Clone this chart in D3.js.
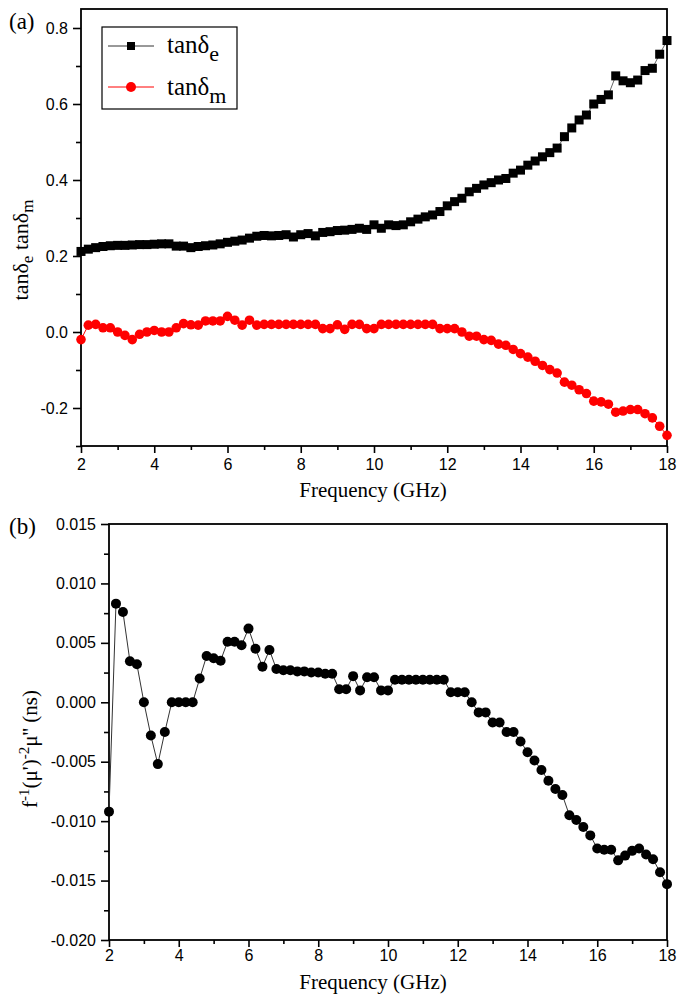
<!DOCTYPE html>
<html>
<head>
<meta charset="utf-8">
<script src="https://d3js.org/d3.v7.min.js"></script>
<style>
  body { margin: 0; background: #fff; }
  .tick line { stroke: #000; stroke-width: 1.6; }
</style>
</head>
<body>
<svg id="fig" width="678" height="996"></svg>
<script>
// frequency points (GHz)
var freq = [2.0, 2.2, 2.4, 2.6, 2.8, 3.0, 3.2, 3.4, 3.6, 3.8,
            4.0, 4.2, 4.4, 4.6, 4.8, 5.0, 5.2, 5.4, 5.6, 5.8,
            6.0, 6.2, 6.4, 6.6, 6.8, 7.0, 7.2, 7.4, 7.6, 7.8,
            8.0, 8.2, 8.4, 8.6, 8.8, 9.0, 9.2, 9.4, 9.6, 9.8,
            10.0, 10.2, 10.4, 10.6, 10.8, 11.0, 11.2, 11.4, 11.6, 11.8,
            12.0, 12.2, 12.4, 12.6, 12.8, 13.0, 13.2, 13.4, 13.6, 13.8,
            14.0, 14.2, 14.4, 14.6, 14.8, 15.0, 15.2, 15.4, 15.6, 15.8,
            16.0, 16.2, 16.4, 16.6, 16.8, 17.0, 17.2, 17.4, 17.6, 17.8,
            18.0];

// (a) dielectric loss tangent
var tanE = [0.212, 0.218, 0.222, 0.225, 0.227, 0.228, 0.228, 0.229, 0.230, 0.230,
            0.231, 0.232, 0.232, 0.226, 0.226, 0.222, 0.225, 0.227, 0.229, 0.232,
            0.236, 0.239, 0.242, 0.247, 0.252, 0.254, 0.253, 0.254, 0.256, 0.250,
            0.256, 0.259, 0.253, 0.262, 0.264, 0.267, 0.268, 0.270, 0.273, 0.270,
            0.282, 0.273, 0.282, 0.280, 0.282, 0.290, 0.297, 0.303, 0.308, 0.317,
            0.332, 0.343, 0.352, 0.369, 0.378, 0.387, 0.393, 0.400, 0.404, 0.418,
            0.426, 0.439, 0.450, 0.461, 0.472, 0.484, 0.514, 0.537, 0.558, 0.571,
            0.600, 0.612, 0.624, 0.674, 0.661, 0.656, 0.663, 0.688, 0.694, 0.731,
            0.767];

// (a) magnetic loss tangent
var tanM = [-0.020, 0.018, 0.020, 0.011, 0.011, 0.000, -0.009, -0.020, -0.006, 0.000,
            0.004, 0.000, 0.000, 0.011, 0.022, 0.019, 0.018, 0.029, 0.029, 0.029,
            0.041, 0.031, 0.018, 0.031, 0.018, 0.020, 0.020, 0.020, 0.020, 0.020,
            0.020, 0.020, 0.020, 0.009, 0.009, 0.019, 0.007, 0.020, 0.020, 0.009,
            0.009, 0.020, 0.020, 0.020, 0.020, 0.020, 0.020, 0.020, 0.020, 0.009,
            0.009, 0.009, 0.000, -0.011, -0.011, -0.020, -0.022, -0.032, -0.035, -0.046,
            -0.057, -0.066, -0.077, -0.088, -0.099, -0.108, -0.132, -0.140, -0.152, -0.162,
            -0.182, -0.184, -0.190, -0.211, -0.208, -0.204, -0.204, -0.215, -0.226, -0.248,
            -0.272];

// (b) f^-1 (mu')^-2 mu'' (ns)
var muTerm = [-0.0092, 0.0083, 0.0076, 0.00345, 0.0032, 0.0000, -0.0028, -0.0052, -0.0025, 0.0000,
              0.0000, 0.0000, 0.0000, 0.0020, 0.0039, 0.0037, 0.0035, 0.0051, 0.0051, 0.0048,
              0.0062, 0.0045, 0.0030, 0.0044, 0.0028, 0.0027, 0.0027, 0.0026, 0.0026, 0.0025,
              0.0025, 0.0024, 0.0024, 0.0011, 0.0011, 0.0022, 0.0010, 0.0021, 0.0021, 0.0010,
              0.0010, 0.0019, 0.0019, 0.0019, 0.0019, 0.0019, 0.0019, 0.0019, 0.0019, 0.00085,
              0.00085, 0.00085, 0.0000, -0.00085, -0.00085, -0.0017, -0.0017, -0.0025, -0.0025, -0.0033,
              -0.0042, -0.0049, -0.0057, -0.0066, -0.0073, -0.0078, -0.0095, -0.0099, -0.0105, -0.0112,
              -0.0123, -0.0124, -0.0124, -0.0133, -0.0129, -0.0125, -0.0123, -0.0128, -0.0132, -0.0143,
              -0.0153];

var xTicks = [2, 4, 6, 8, 10, 12, 14, 16, 18],
    xMinor = [3, 5, 7, 9, 11, 13, 15, 17];
var yTicksA = [-0.2, 0.0, 0.2, 0.4, 0.6, 0.8],
    yMinorA = [-0.3, -0.1, 0.1, 0.3, 0.5, 0.7];
var yTicksB = [-0.020, -0.015, -0.010, -0.005, 0.000, 0.005, 0.010, 0.015],
    yMinorB = [-0.0175, -0.0125, -0.0075, -0.0025, 0.0025, 0.0075, 0.0125];

var SANS = "'Liberation Sans', Arial, Helvetica, sans-serif",
    SERIF = "'Liberation Serif', 'Times New Roman', Times, 'DejaVu Serif', serif";

var svg = d3.select("#fig");

function serifText(parent, size) {
  return parent.append("text")
      .attr("font-family", SERIF)
      .attr("font-size", size)
      .attr("fill", "#000");
}

function drawFrame(x, y, opts) {
  var g = svg.append("g");
  var x0 = x.range()[0], x1 = x.range()[1],
      y0 = y.range()[0], y1 = y.range()[1];

  function tidy(s) {
    s.select(".domain").remove();
    s.attr("font-family", SANS).attr("font-size", 16);
    s.selectAll("text").attr("fill", "#000");
  }

  // minor ticks
  g.append("g")
      .attr("transform", "translate(0," + y0 + ")")
      .call(d3.axisBottom(x).tickValues(xMinor).tickSize(4).tickFormat(""))
      .call(tidy);
  g.append("g")
      .attr("transform", "translate(" + x0 + ",0)")
      .call(d3.axisLeft(y).tickValues(opts.yMinor).tickSize(5).tickFormat(""))
      .call(tidy);

  // major ticks
  g.append("g")
      .attr("transform", "translate(0," + y0 + ")")
      .call(d3.axisBottom(x).tickValues(xTicks).tickSize(7).tickPadding(opts.xPad)
        .tickFormat(function(d) { return d; }))
      .call(tidy);
  g.append("g")
      .attr("transform", "translate(" + x0 + ",0)")
      .call(d3.axisLeft(y).tickValues(opts.yTicks).tickSize(8).tickPadding(opts.yPad)
        .tickFormat(function(d) { return d.toFixed(opts.digits); }))
      .call(tidy);

  // box
  g.append("rect")
      .attr("x", x0).attr("y", y1)
      .attr("width", x1 - x0).attr("height", y0 - y1)
      .attr("fill", "none")
      .attr("stroke", "#000")
      .attr("stroke-width", 1.8);

  serifText(g, 21)
      .attr("x", 373).attr("y", opts.titleY)
      .attr("text-anchor", "middle")
      .text("Frequency (GHz)");
}

// ---------- panel (a) ----------
var xa = d3.scaleLinear().domain([2, 18]).range([81, 667]),
    ya = d3.scaleLinear().domain([-0.3, 0.85]).range([446, 9]);

drawFrame(xa, ya, {yTicks: yTicksA, yMinor: yMinorA, digits: 1, xPad: 6, yPad: 5, titleY: 497});

var lineA = d3.line().x(function(d, i) { return xa(freq[i]); }).y(function(d) { return ya(d); });

svg.append("path")
    .datum(tanE)
    .attr("d", lineA)
    .attr("fill", "none")
    .attr("stroke", "#666")
    .attr("stroke-width", 1);

svg.append("path")
    .datum(tanM)
    .attr("d", lineA)
    .attr("fill", "none")
    .attr("stroke", "#f00")
    .attr("stroke-width", 1);

svg.append("g").selectAll("rect")
    .data(tanE)
  .enter().append("rect")
    .attr("x", function(d, i) { return xa(freq[i]) - 4.5; })
    .attr("y", function(d) { return ya(d) - 4.5; })
    .attr("width", 9)
    .attr("height", 9)
    .attr("fill", "#000");

svg.append("g").selectAll("circle")
    .data(tanM)
  .enter().append("circle")
    .attr("cx", function(d, i) { return xa(freq[i]); })
    .attr("cy", function(d) { return ya(d); })
    .attr("r", 4.8)
    .attr("fill", "#f00");

// legend
var leg = svg.append("g");
leg.append("rect")
    .attr("x", 102).attr("y", 27).attr("width", 135).attr("height", 82)
    .attr("fill", "#fff").attr("stroke", "#000").attr("stroke-width", 1.2);
leg.append("line").attr("x1", 108).attr("x2", 154).attr("y1", 46).attr("y2", 46)
    .attr("stroke", "#333").attr("stroke-width", 1);
leg.append("rect").attr("x", 127).attr("y", 42).attr("width", 8).attr("height", 8).attr("fill", "#000");
leg.append("line").attr("x1", 108).attr("x2", 154).attr("y1", 87).attr("y2", 87)
    .attr("stroke", "#f00").attr("stroke-width", 1);
leg.append("circle").attr("cx", 131).attr("cy", 87).attr("r", 5).attr("fill", "#f00");

var legLabels = [["e", 53], ["m", 95]];
legLabels.forEach(function(l) {
  var t = serifText(leg, 25).attr("x", 167).attr("y", l[1]);
  t.append("tspan").text("tan\u03b4");
  t.append("tspan").attr("dy", 8).attr("font-size", 22).text(l[0]);
});

// y label (a)
var yla = serifText(svg, 22)
    .attr("transform", "translate(28,250) rotate(-90)")
    .attr("text-anchor", "middle");
yla.append("tspan").text("tan\u03b4");
yla.append("tspan").attr("dy", 5).attr("font-size", 17).text("e");
yla.append("tspan").attr("dy", -5).text(" tan\u03b4");
yla.append("tspan").attr("dy", 5).attr("font-size", 17).text("m");

serifText(svg, 23).attr("x", 9).attr("y", 29).text("(a)");

// ---------- panel (b) ----------
var xb = d3.scaleLinear().domain([2, 18]).range([109, 667]),
    yb = d3.scaleLinear().domain([-0.020, 0.015]).range([940, 524]);

drawFrame(xb, yb, {yTicks: yTicksB, yMinor: yMinorB, digits: 3, xPad: 3, yPad: 5, titleY: 989});

var lineB = d3.line().x(function(d, i) { return xb(freq[i]); }).y(function(d) { return yb(d); });

svg.append("path")
    .datum(muTerm)
    .attr("d", lineB)
    .attr("fill", "none")
    .attr("stroke", "#333")
    .attr("stroke-width", 1);

svg.append("g").selectAll("circle")
    .data(muTerm)
  .enter().append("circle")
    .attr("cx", function(d, i) { return xb(freq[i]); })
    .attr("cy", function(d) { return yb(d); })
    .attr("r", 5)
    .attr("fill", "#000");

// y label (b)
var ylb = serifText(svg, 21)
    .attr("transform", "translate(37,749) rotate(-90)")
    .attr("text-anchor", "middle");
ylb.append("tspan").text("f");
ylb.append("tspan").attr("dy", -8).attr("font-size", 15).text("-1");
ylb.append("tspan").attr("dy", 8).text("(\u03bc')");
ylb.append("tspan").attr("dy", -8).attr("font-size", 15).text("-2");
ylb.append("tspan").attr("dy", 8).text("\u03bc'' (ns)");

serifText(svg, 23).attr("x", 9).attr("y", 534).text("(b)");
</script>
</body>
</html>
